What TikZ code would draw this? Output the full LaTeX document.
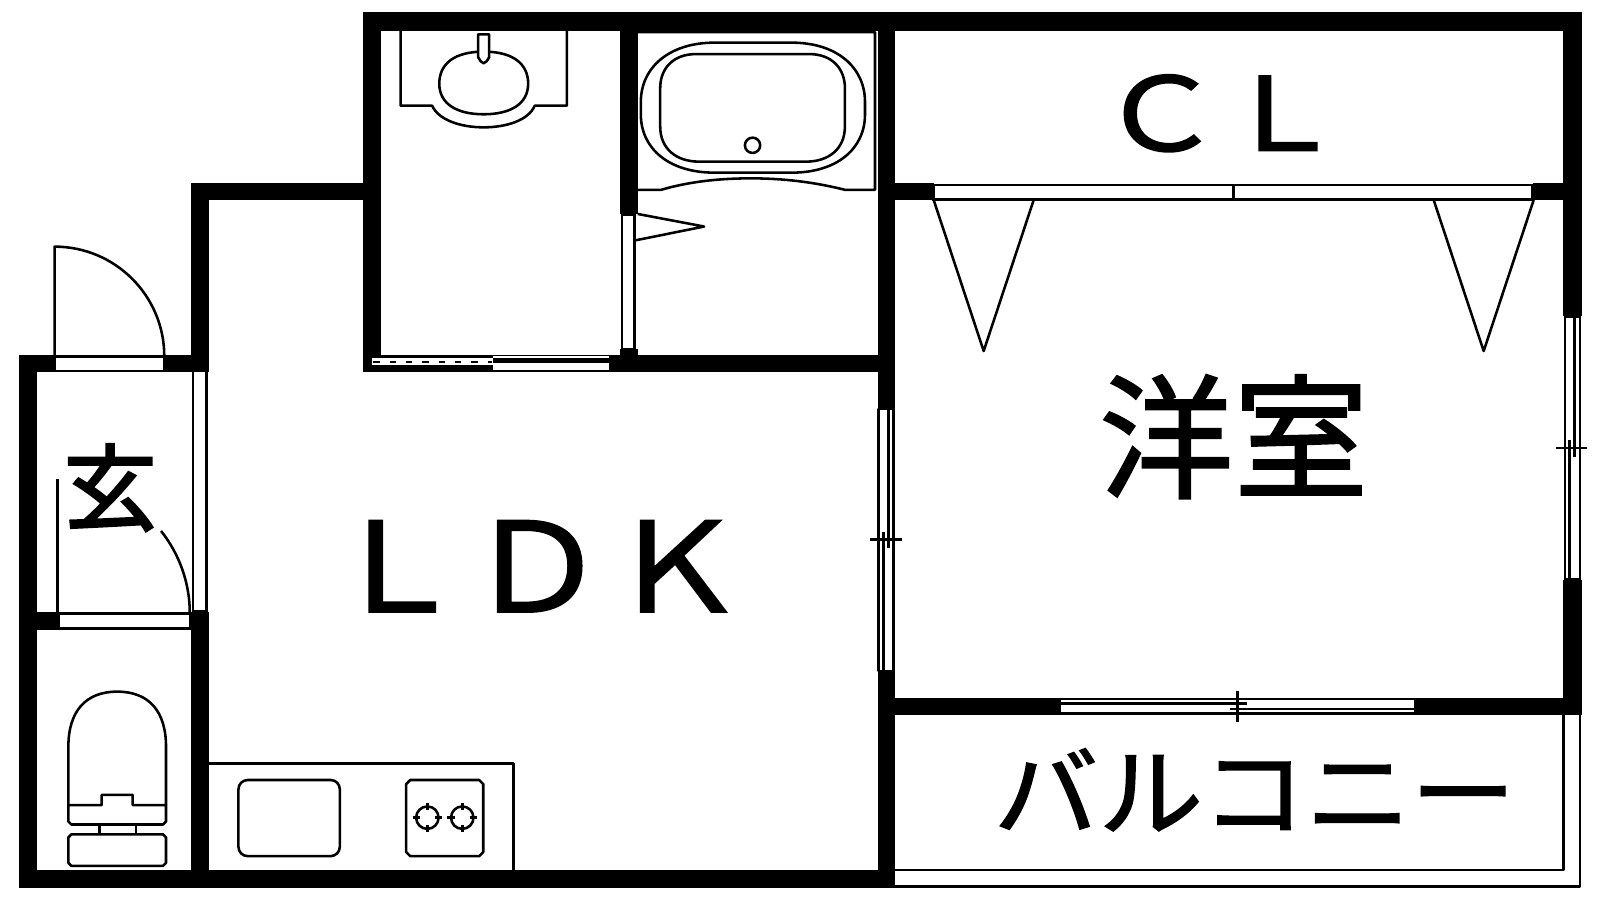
\documentclass[tikz,border=0pt]{standalone}
\usepackage{fontspec}
\setmainfont{Noto Sans CJK JP}[FakeBold=1.4]
\newfontfamily\heavyfont{Noto Sans CJK JP}[FakeBold=2.4]
\tikzset{
  wall/.style={fill=black},
  fixture/.style={draw=black, line width=2.5pt, line join=round},
  pane/.style={draw=black, line width=2.5pt, fill=white},
  roomlabel/.style={inner sep=0pt, text=black, transform shape}
}
\begin{document}
\begin{tikzpicture}[x=1pt, y=-1pt]
\useasboundingbox (0,0) rectangle (1568,882);
% walls
\fill[wall] (356,12) rectangle (1550,30);
\fill[wall] (356,12) rectangle (373,365);
\fill[wall] (356,348) rectangle (877,365);
\fill[wall] (187,179) rectangle (373,196);
\fill[wall] (187,179) rectangle (205,365);
\fill[wall] (19,348) rectangle (205,365);
\fill[wall] (19,348) rectangle (36,870);
\fill[wall] (19,853) rectangle (877,870);
\fill[wall] (36,599.5) rectangle (205,617);
\fill[wall] (187,599.5) rectangle (205,870);
\fill[wall] (607.5,30) rectangle (625,210);
\fill[wall] (607.5,342) rectangle (625,365);
\fill[wall] (860,12) rectangle (877,401);
\fill[wall] (860,657.5) rectangle (877,870);
\fill[wall] (1532,12) rectangle (1550,310);
\fill[wall] (1532,568) rectangle (1550,701);
\fill[wall] (877,179.5) rectangle (915,196);
\fill[wall] (1502,179.5) rectangle (1533,196);
\fill[wall] (877,684) rectangle (1040,701);
\fill[wall] (1386,684) rectangle (1550,701);
% entrance door
\draw[pane] (53.5,350) rectangle (161,363.5);
\draw[fixture] (53.5,350) -- (53.5,241.7) arc (-90:0:107.5);
\draw[pane] (189,365) -- (189,599.5) -- (202.5,599.5) -- (202.5,365);
\fill[white] (190.2,365) rectangle (201.3,598.2);
% inner door
\draw[pane] (57.5,601.5) rectangle (186,615.5);
\draw[fixture] (56.5,601) -- (56.5,469.5);
\draw[fixture] (186,601) arc (0:-38.5:129.5);
% washroom sliding door
\fill[white] (365,351.2) rectangle (483,357.7);
\draw[line width=2pt, dash pattern=on 6pt off 10pt] (366,354.4) -- (482,354.4);
\fill[white] (483,349) rectangle (597,351.2);
\fill[white] (483,355.4) rectangle (597,362.6);
% bathroom door
\draw[pane] (609.5,210) rectangle (622,342);
\draw[fixture] (625,209.7) -- (690,222) -- (623,235.5);
% washbasin
\draw[fixture] (392.7,30.4) -- (392.7,103.6) -- (423.5,103.6) .. controls (430,118) and (452,124.8) .. (474,124.8) .. controls (496,124.8) and (518,118) .. (524,103.6) -- (555.5,103.6) -- (555.5,30.4);
\draw[fixture] (474,50.6) .. controls (502,50.6) and (517.6,62) .. (517.6,82) .. controls (517.6,102) and (500,112) .. (474,112) .. controls (448,112) and (430.5,102) .. (430.5,82) .. controls (430.5,62) and (446,50.6) .. (474,50.6) -- cycle;
\filldraw[fixture, fill=white] (468.6,33.6) -- (479.4,33.6) -- (479.4,56) -- (477,60) -- (474,62) -- (471,60) -- (468.6,56) -- cycle;
% bathtub
\draw[fixture] (625,31.5) -- (857.5,31.5) -- (857.5,186) -- (828,186) .. controls (800,179) and (770,174.8) .. (736,174.8) .. controls (700,174.8) and (672,179) .. (648,186) -- (625,186);
\draw[fixture] (700,41.8) -- (776,41.8) .. controls (820,41.8) and (847.7,66) .. (847.7,100) -- (847.7,112) .. controls (847.7,146) and (820,169.2) .. (776,169.2) -- (700,169.2) .. controls (656,169.2) and (628,146) .. (628,112) -- (628,100) .. controls (628,66) and (656,41.8) .. (700,41.8) -- cycle;
\draw[fixture] (682,53) -- (793,53) .. controls (816,53) and (828,68) .. (828,86) -- (828,124) .. controls (828,146) and (812,158.4) .. (790,158.4) -- (685,158.4) .. controls (663,158.4) and (647,146) .. (647,124) -- (647,86) .. controls (647,68) and (659,53) .. (682,53) -- cycle;
\draw[fixture] (737.5,142.4) circle (7.5);
% closet doors
\draw[pane] (915,181.5) rectangle (1502,195.3);
\draw[fixture] (1209,181.5) -- (1209,195.3);
\draw[fixture] (915,196) -- (964,344) -- (1013,196);
\draw[fixture] (1405,196) -- (1454,344) -- (1503,196);
% window between LDK and room
\fill[white] (860.8,401) rectangle (875.5,657.5);
\draw[fixture] (860.8,401) -- (860.8,657.5) -- (875.5,657.5) -- (875.5,401) -- cycle;
\draw[fixture] (870.6,401) -- (870.6,537.4);
\draw[fixture] (865.7,521) -- (865.7,657.5);
\draw[fixture] (852.6,528.6) -- (883.6,528.6);
% right window
\fill[white] (1533.7,310) rectangle (1548.4,568);
\draw[fixture] (1533.7,310) -- (1533.7,568) -- (1548.4,568) -- (1548.4,310) -- cycle;
\draw[fixture] (1543,310) -- (1543,447.5);
\draw[fixture] (1538,431) -- (1538,568);
\draw[fixture] (1525,439) -- (1555.5,439);
% balcony window
\fill[white] (1040,685) rectangle (1386,699.4);
\draw[fixture] (1040,685) -- (1386,685);
\draw[fixture] (1040,699.4) -- (1386,699.4);
\draw[fixture] (1040,689.6) -- (1222,689.6);
\draw[fixture] (1205,695) -- (1386,695);
\draw[fixture] (1213,677) -- (1213,708);
% balcony
\draw[fixture] (1532,701) -- (1532,852.6) -- (877,852.6);
\draw[fixture] (1548.5,692) -- (1548.5,869) -- (868,869);
% kitchen
\draw[fixture] (205,748) -- (503,748) -- (503,853);
\draw[fixture, rounded corners=9pt] (233.7,764.4) rectangle (333,839);
\draw[fixture] (402,764.4) -- (469.6,764.4) -- (473.6,768.4) -- (473.6,835) -- (469.6,839) -- (402,839) -- (398,835) -- (398,768.4) -- cycle;
\foreach \bx in {418.8,453} {
  \draw[fixture] (\bx,801.3) circle (11);
  \draw[fixture] (\bx-14.5,801.3) -- (\bx-7.5,801.3);
  \draw[fixture] (\bx+7.5,801.3) -- (\bx+14.5,801.3);
  \draw[fixture] (\bx,786.8) -- (\bx,793.8);
  \draw[fixture] (\bx,808.8) -- (\bx,815.8);
}
% toilet
\draw[fixture] (67,789) -- (67,731.8) .. controls (67,697) and (84,677.8) .. (114.8,677.8) .. controls (146,677.8) and (162.7,697) .. (162.7,731.8) -- (162.7,789);
\draw[fixture] (67,789) -- (99.6,789) -- (99.6,779) -- (130,779) -- (130,789) -- (162.7,789) -- (162.7,805) -- (159.7,808) -- (70,808) -- (67,805) -- cycle;
\draw[fixture] (97.4,808) -- (97.4,817.6);
\draw[fixture] (133.3,808) -- (133.3,817.6);
\draw[fixture] (70,817.6) -- (159.7,817.6) -- (162.7,820.6) -- (162.7,845.6) -- (159.7,848.6) -- (70,848.6) -- (67,845.6) -- (67,820.6) -- cycle;
% labels
\node[roomlabel, font=\heavyfont\fontsize{92}{92}\selectfont] (entrance) at (108,478) {玄};
\node[roomlabel, xscale=1.125, font=\fontsize{122}{122}\selectfont] (ldk) at (526,555) {ＬＤＫ};
\node[roomlabel, xscale=1.2, font=\fontsize{100}{100}\selectfont] (closet) at (1197.5,111) {ＣＬ};
\node[roomlabel, font=\fontsize{132}{132}\selectfont] (room) at (1209,428) {洋室};
\node[roomlabel, xscale=1.07, font=\fontsize{96}{96}\selectfont] (balcony) at (1229.5,774) {バルコニー};
\end{tikzpicture}
\end{document}
